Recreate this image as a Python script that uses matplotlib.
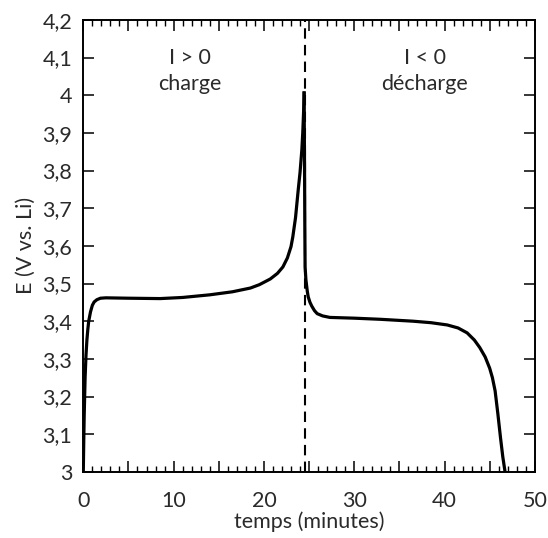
import matplotlib
matplotlib.use("Agg")
import matplotlib.pyplot as plt
from matplotlib.ticker import MultipleLocator, FixedLocator
import numpy as np

plt.rcParams['font.family'] = ['Lato', 'DejaVu Sans']

# charge branch (I > 0)
charge_t = [0.0, 0.05, 0.1, 0.2, 0.3, 0.4, 0.5, 0.6, 0.8, 1.0, 1.2, 1.5, 1.9, 2.5,
            5.0, 8.5, 11.0, 14.0, 16.5, 18.5, 19.5, 20.7, 21.5, 22.1, 22.6, 23.0,
            23.2, 23.5, 23.8, 24.0, 24.2, 24.3, 24.4, 24.45]
charge_E = [3.0, 3.08, 3.15, 3.25, 3.31, 3.35, 3.378, 3.40, 3.425, 3.442, 3.451,
            3.457, 3.461, 3.462, 3.461, 3.460, 3.463, 3.470, 3.478, 3.488, 3.497,
            3.512, 3.527, 3.544, 3.568, 3.598, 3.624, 3.675, 3.749, 3.795, 3.855,
            3.90, 3.96, 4.006]

# discharge branch (I < 0)
discharge_t = [24.45, 24.5, 24.53, 24.56, 24.65, 24.8, 24.9, 25.1, 25.3, 25.6, 25.9,
               26.5, 27.3, 30.0, 32.9, 36.5, 38.5, 40.3, 41.5, 42.5, 43.3, 43.9,
               44.5, 45.0, 45.3, 45.6, 45.9, 46.2, 46.45, 46.7]
discharge_E = [4.006, 3.80, 3.65, 3.544, 3.51, 3.48, 3.465, 3.45, 3.44, 3.428, 3.42,
               3.414, 3.41, 3.408, 3.405, 3.40, 3.396, 3.39, 3.382, 3.369, 3.35,
               3.33, 3.305, 3.275, 3.25, 3.215, 3.155, 3.09, 3.04, 3.0]

switch_t = 24.5
y_ticks = [3.0, 3.1, 3.2, 3.3, 3.4, 3.5, 3.6, 3.7, 3.8, 3.9, 4.0, 4.1, 4.2]
y_labels = ['3', '3,1', '3,2', '3,3', '3,4', '3,5', '3,6', '3,7', '3,8', '3,9',
            '4', '4,1', '4,2']
x_ticks = [0, 10, 20, 30, 40, 50]

txt = '#2a2a2a'
fs = 15.5

fig = plt.figure(figsize=(5.48, 5.38), dpi=100)
ax = fig.add_axes([0.152, 0.123, 0.824, 0.840])

ax.plot(charge_t, charge_E, color='black', lw=2.3, solid_joinstyle='round')
ax.plot(discharge_t, discharge_E, color='black', lw=2.3, solid_joinstyle='round')
ax.axvline(switch_t, color='black', lw=1.5, ls=(0, (5, 3)))

ax.set_xlim(0, 50)
ax.set_ylim(3.0, 4.2)

# major every 5 (labelled every 10), minor every 1
ax.xaxis.set_major_locator(FixedLocator(np.arange(0, 51, 5)))
ax.set_xticklabels([str(v) if v in x_ticks else '' for v in range(0, 51, 5)])
ax.xaxis.set_minor_locator(MultipleLocator(1))
ax.set_yticks(y_ticks)
ax.set_yticklabels(y_labels)

ax.tick_params(which='major', direction='in', length=8, width=1.1,
               top=True, right=True, labelsize=fs, labelcolor=txt, pad=8)
ax.tick_params(axis='x', which='major', pad=14)
ax.tick_params(which='minor', direction='in', length=4, width=1.0,
               top=True, right=False, left=False)
ax.tick_params(axis='y', which='minor', left=False, right=False)
for s in ax.spines.values():
    s.set_linewidth(1.4)

ax.set_xlabel('temps (minutes)', fontsize=fs, color=txt, labelpad=0)
ax.set_ylabel('E (V vs. Li)', fontsize=fs, color=txt, labelpad=5)

ax.text(11.8, 4.10, 'I > 0', ha='center', va='center', fontsize=fs, color=txt)
ax.text(11.8, 4.03, 'charge', ha='center', va='center', fontsize=fs, color=txt)
ax.text(37.8, 4.10, 'I < 0', ha='center', va='center', fontsize=fs, color=txt)
ax.text(37.8, 4.03, 'décharge', ha='center', va='center', fontsize=fs, color=txt)

fig.savefig('out.png', dpi=100, facecolor='white')
